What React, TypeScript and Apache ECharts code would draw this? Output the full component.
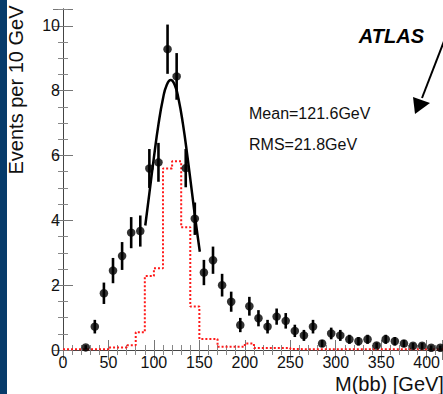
import React, { useEffect, useRef } from "react";
import * as echarts from "echarts";

// Data points (bin centres, GeV) with values and error bars
const binCenters = [25, 35, 45, 55, 65, 75, 85, 95, 105, 115, 125, 135, 145, 155, 165, 175, 185, 195, 205, 215, 225, 235, 245, 255, 265, 275, 285, 295, 305, 315, 325, 335, 345, 355, 365, 375, 385, 395, 405, 415];
const eventValues = [0.08, 0.72, 1.75, 2.45, 2.9, 3.62, 3.67, 5.6, 5.79, 9.28, 8.44, 5.61, 4.05, 2.39, 2.77, 2.0, 1.49, 0.77, 1.35, 0.98, 0.72, 1.03, 0.9, 0.59, 0.45, 0.72, 0.2, 0.51, 0.45, 0.33, 0.27, 0.33, 0.14, 0.33, 0.27, 0.2, 0.13, 0.13, 0.07, 0.07];
const eventErrors = [0.07, 0.21, 0.33, 0.39, 0.43, 0.48, 0.48, 0.6, 0.6, 0.76, 0.72, 0.59, 0.5, 0.39, 0.42, 0.35, 0.31, 0.22, 0.29, 0.25, 0.21, 0.25, 0.24, 0.19, 0.17, 0.21, 0.11, 0.18, 0.17, 0.14, 0.13, 0.14, 0.09, 0.14, 0.13, 0.11, 0.09, 0.09, 0.07, 0.07];

// Signal histogram (red dotted), left bin edges and contents
const signalEdges = [0, 10, 20, 30, 40, 50, 60, 70, 80, 90, 100, 110, 120, 130, 140, 150, 160, 170, 180, 190, 200, 210, 220, 230, 240, 250, 260, 270, 280, 290, 300, 310, 320, 330, 340, 350, 360, 370, 380, 390, 400, 410, 420];
const signalValues = [0.02, 0.02, 0.02, 0.02, 0.02, 0.08, 0.08, 0.15, 0.55, 2.28, 2.52, 5.6, 5.82, 3.79, 1.34, 0.34, 0.34, 0.1, 0.1, 0.1, 0.2, 0.06, 0.06, 0.06, 0.06, 0.03, 0.02, 0.02, 0.02, 0.02, 0.02, 0.02, 0.02, 0.02, 0.02, 0.02, 0.02, 0.02, 0.02, 0.02, 0.02, 0.02];

// Fit curve
const fitMass = [90.5, 95, 100, 105, 110, 114, 118.5, 123, 127, 132, 137, 142, 146.5, 150.5];
const fitValues = [3.84, 4.83, 5.94, 6.96, 7.76, 8.17, 8.33, 8.17, 7.76, 6.96, 5.94, 4.83, 3.84, 3.03];

const xTitle = "M(bb) [GeV]";
const yTitle = "Events per 10 GeV";
const meanText = "Mean=121.6GeV";
const rmsText = "RMS=21.8GeV";
const expText = "ATLAS";

const FONT = "'Liberation Sans', Arial, Helvetica, sans-serif";

export default function App() {
  const ref = useRef<HTMLDivElement>(null);
  useEffect(() => {
    if (!ref.current) return;
    const chart = echarts.init(ref.current, null, { renderer: "svg" });
    const histData = signalEdges.map((e, i) => [e, signalValues[Math.min(i, signalValues.length - 1)]]);
    const pts = binCenters.map((x, i) => [x, eventValues[i], eventErrors[i]]);
    const fit = fitMass.map((x, i) => [x, fitValues[i]]);

    const axisCommon = {
      type: "value" as const,
      axisLine: { show: true, lineStyle: { color: "#444", width: 1 } },
      axisTick: { show: true, inside: true, length: 10, lineStyle: { color: "#777", width: 1 } },
      minorTick: { show: true, length: 5, lineStyle: { color: "#888", width: 1 } },
      splitLine: { show: false },
      minorSplitLine: { show: false },
    };

    chart.setOption({
      animation: false,
      grid: { left: 63, top: 9, right: 0, bottom: 44, containLabel: false },
      xAxis: [
        {
          ...axisCommon,
          position: "bottom",
          min: 0,
          max: 417.5,
          interval: 50,
          minorTick: { ...axisCommon.minorTick, splitNumber: 5 },
          axisLabel: { show: true, fontSize: 16, fontFamily: FONT, color: "#111", margin: 4, showMaxLabel: false },
        },
        {
          ...axisCommon,
          position: "top",
          min: 0,
          max: 417.5,
          interval: 50,
          minorTick: { ...axisCommon.minorTick, splitNumber: 5 },
          axisLabel: { show: false },
        },
      ],
      yAxis: [
        {
          ...axisCommon,
          position: "left",
          min: 0,
          max: 10.52,
          interval: 2,
          minorTick: { ...axisCommon.minorTick, splitNumber: 4 },
          axisLabel: { show: true, fontSize: 16, fontFamily: FONT, color: "#111", margin: 3, showMaxLabel: false },
        },
        {
          ...axisCommon,
          position: "right",
          min: 0,
          max: 10.52,
          interval: 2,
          minorTick: { ...axisCommon.minorTick, splitNumber: 4 },
          axisLabel: { show: false },
        },
      ],
      series: [
        {
          type: "line",
          xAxisIndex: 0,
          yAxisIndex: 0,
          data: histData,
          step: "end",
          symbol: "none",
          clip: true,
          lineStyle: { color: "#ff1a1a", width: 2, type: [2, 2] },
          z: 2,
        },
        {
          type: "line",
          xAxisIndex: 0,
          yAxisIndex: 0,
          data: fit,
          smooth: true,
          symbol: "none",
          lineStyle: { color: "#000", width: 2.5 },
          z: 3,
        },
        {
          type: "custom",
          xAxisIndex: 0,
          yAxisIndex: 0,
          data: pts,
          encode: { x: 0, y: 1 },
          renderItem: (params: any, api: any) => {
            const x = api.value(0);
            const v = api.value(1);
            const e = api.value(2);
            const p1 = api.coord([x, v - e]);
            const p2 = api.coord([x, v + e]);
            return {
              type: "line",
              shape: { x1: p1[0], y1: p1[1], x2: p2[0], y2: p2[1] },
              style: { stroke: "#000", lineWidth: 2.6 },
            };
          },
          z: 4,
        },
        {
          type: "scatter",
          xAxisIndex: 0,
          yAxisIndex: 0,
          data: pts.map((p) => [p[0], p[1]]),
          symbol: "circle",
          symbolSize: 8.5,
          itemStyle: { color: "#000" },
          z: 5,
        },
      ],
      graphic: [
        { type: "rect", left: 0, top: 0, shape: { x: 0, y: 0, width: 7, height: 394 }, style: { fill: "#073b6a" }, z: 10 },
        {
          type: "text",
          x: 16,
          y: 90,
          rotation: Math.PI / 2,
          style: { text: yTitle, fontSize: 20, fontFamily: FONT, fill: "#111", textAlign: "center", textVerticalAlign: "middle", align: "center", verticalAlign: "middle" },
          z: 10,
        },
        {
          type: "text",
          x: 335,
          y: 384,
          style: { text: xTitle, fontSize: 20, fontFamily: FONT, fill: "#111", textAlign: "left", textVerticalAlign: "middle", align: "left", verticalAlign: "middle" },
          z: 10,
        },
        {
          type: "text",
          x: 424,
          y: 35.5,
          style: { text: expText, fontSize: 20, fontWeight: "bold", fontStyle: "italic", fontFamily: FONT, fill: "#000", textAlign: "right", textVerticalAlign: "middle", align: "right", verticalAlign: "middle" },
          z: 10,
        },
        {
          type: "text",
          x: 249,
          y: 113,
          style: { text: meanText, fontSize: 16, fontFamily: FONT, fill: "#111", textAlign: "left", textVerticalAlign: "middle", align: "left", verticalAlign: "middle" },
          z: 10,
        },
        {
          type: "text",
          x: 249,
          y: 144,
          style: { text: rmsText, fontSize: 16, fontFamily: FONT, fill: "#111", textAlign: "left", textVerticalAlign: "middle", align: "left", verticalAlign: "middle" },
          z: 10,
        },
        {
          type: "line",
          shape: { x1: 453, y1: 18, x2: 422, y2: 98 },
          style: { stroke: "#000", lineWidth: 2 },
          z: 10,
        },
        {
          type: "polygon",
          shape: { points: [[415, 114], [413, 97], [430, 103]] },
          style: { fill: "#000" },
          z: 10,
        },
      ],
    });
    return () => chart.dispose();
  }, []);
  return <div ref={ref} style={{ position: "absolute", left: 0, top: 0, width: 443, height: 394 }} />;
}
